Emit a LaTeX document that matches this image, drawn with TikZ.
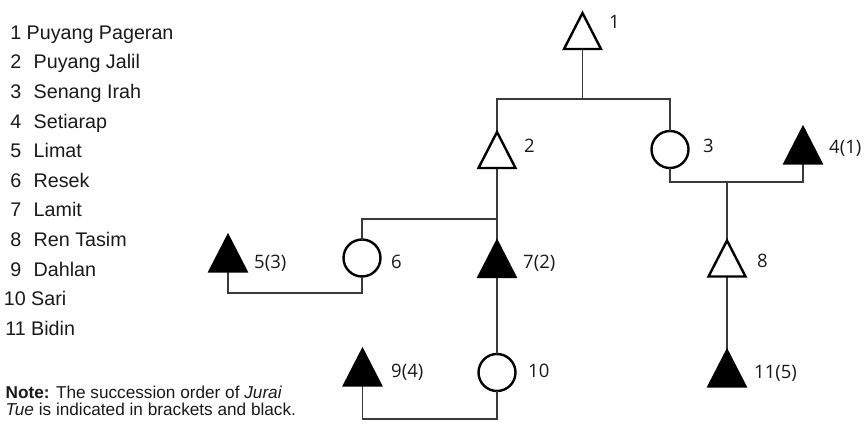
\documentclass[tikz,border=0pt]{standalone}
\usepackage{fontspec}
\setmainfont{Liberation Sans}
\newfontfamily\labelfont{Open Sans}
\definecolor{linkgray}{HTML}{3A3A3A}
\definecolor{inkgray}{HTML}{1A1A1A}
\begin{document}
\begin{tikzpicture}[x=1pt,y=-1pt,
  link/.style={draw=linkgray, line width=1.4pt},
  kin/.style={minimum width=37pt, minimum height=36pt, inner sep=0pt, outer sep=0pt},
  tri/.style={draw=black, line width=2.4pt, line join=miter},
  female/.style={circle, draw=black, line width=2.4pt, fill=white,
    minimum size=37pt, inner sep=0pt, outer sep=0pt},
  tag/.style={anchor=base west, inner sep=0pt, text=inkgray,
    font=\labelfont\fontsize{18.5}{20}\selectfont},
  legnum/.style={anchor=base east, inner sep=0pt, text=inkgray,
    font=\fontsize{19.7}{21}\selectfont},
  legname/.style={anchor=base west, inner sep=0pt, text=inkgray,
    font=\fontsize{19.7}{21}\selectfont},
  note/.style={anchor=base west, inner sep=0pt, text=inkgray,
    font=\fontsize{17.2}{18}\selectfont}]

\fill[white] (0,0) rectangle (867,428);
\useasboundingbox (0,0) rectangle (867,428);

% legend of names
\foreach \i/\nx/\tx/\name in {
  1/21.5/26.5/Puyang Pageran,
  2/21.5/33.5/Puyang Jalil,
  3/21.5/33.5/Senang Irah,
  4/21.5/33.5/Setiarap,
  5/21.5/33.5/Limat,
  6/21.5/33.5/Resek,
  7/21.5/33.5/Lamit,
  8/21.5/33.5/Ren Tasim,
  9/21.5/33.5/Dahlan,
  10/26/31/Sari,
  11/26/31/Bidin}{
  \node[legnum] (num\i) at (\nx,{39.3+29.6*(\i-1)}) {\i};
  \node[legname] (name\i) at (\tx,{39.3+29.6*(\i-1)}) {\name};
}

% note
\node[note] (note1) at (5.5,398) {\textbf{Note:} The succession order of \textit{Jurai}};
\node[note] (note2) at (5.5,415) {\textit{Tue} is indicated in brackets and black.};

% people: triangles are male, circles are female
\node[kin] (t1) at (582.5,31) {};
\node[kin] (t2) at (497,150) {};
\node[female] (c3) at (670,149.5) {};
\node[kin] (t4) at (803,145.5) {};
\node[kin] (t5) at (228,253.5) {};
\node[female] (c6) at (362,258) {};
\node[kin] (t7) at (497,259) {};
\node[kin] (t8) at (727,258.5) {};
\node[kin] (t9) at (362.5,367.5) {};
\node[female] (c10) at (497,372.5) {};
\node[kin] (t11) at (727,368.5) {};

% junction levels
\coordinate (j1) at (0,99);
\coordinate (j2) at (0,182);
\coordinate (j3) at (0,219);
\coordinate (j4) at (0,293);
\coordinate (j5) at (0,419);

% kinship lines
\draw[link] (t1.south) -- (t1.south |- j1);
\draw[link] (t2.north) -- (t2.north |- j1) -| (c3.north);
\draw[link] (c3.south) -- (c3.south |- j2) -| (t4.south);
\draw[link] (t8.north) -- (t8.north |- j2);
\draw[link] (t2.south) -- (t7.north);
\draw[link] (c6.north) |- (t2.south |- j3);
\draw[link] (c6.south) -- (c6.south |- j4) -| (t5.south);
\draw[link] (t7.south) -- (c10.north);
\draw[link] (c10.south) -- (c10.south |- j5) -| (t9.south);
\draw[link] (t8.south) -- (t11.north);

% triangle symbols
\foreach \n/\f in {t1/white, t2/white, t8/white,
                   t4/black, t5/black, t7/black, t9/black, t11/black}{
  \draw[tri, fill=\f] (\n.south west) -- (\n.north) -- (\n.south east) -- cycle;
}

% labels
\node[tag] (l1) at (609,29) {1};
\node[tag] (l2) at (524,152) {2};
\node[tag] (l3) at (703,152) {3};
\node[tag] (l4) at (829,153) {4(1)};
\node[tag] (l5) at (254,268) {5(3)};
\node[tag] (l6) at (391,268) {6};
\node[tag] (l7) at (523,268) {7(2)};
\node[tag] (l8) at (757,267) {8};
\node[tag] (l9) at (391,377) {9(4)};
\node[tag] (l10) at (528,377) {10};
\node[tag] (l11) at (754,378) {11(5)};
\end{tikzpicture}
\end{document}
